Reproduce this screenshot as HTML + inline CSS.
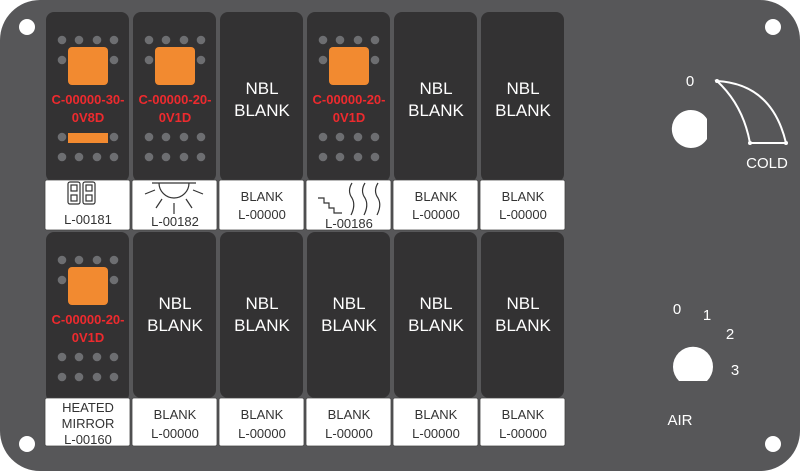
<!DOCTYPE html>
<html><head><meta charset="utf-8"><style>
html,body{margin:0;padding:0;background:#fff;}
svg{display:block;}
text{font-family:"Liberation Sans","DejaVu Sans",sans-serif;}
</style></head><body>
<svg width="800" height="471" viewBox="0 0 800 471" xmlns="http://www.w3.org/2000/svg">
<defs>
<g id="dots4"><circle cx="16" cy="0" r="4.3" fill="#6d6e71"/><circle cx="33" cy="0" r="4.3" fill="#6d6e71"/><circle cx="51" cy="0" r="4.3" fill="#6d6e71"/><circle cx="68" cy="0" r="4.3" fill="#6d6e71"/></g>
<g id="lit">
<rect x="0" y="0" width="83" height="170" rx="8" fill="#333233"/>
<use href="#dots4" y="28"/>
<circle cx="16" cy="48" r="4.3" fill="#6d6e71"/><circle cx="68" cy="48" r="4.3" fill="#6d6e71"/>
<rect x="22" y="35" width="40" height="38" rx="4" fill="#f28a30"/>
<use href="#dots4" y="145"/>
</g>
</defs>
<rect x="0" y="0" width="800" height="471" rx="40" fill="#575759"/>
<circle cx="27" cy="27" r="8" fill="#fff"/>
<circle cx="773" cy="27" r="8" fill="#fff"/>
<circle cx="27" cy="444" r="8" fill="#fff"/>
<circle cx="773" cy="444" r="8" fill="#fff"/>

<!-- Row 1 -->
<g transform="translate(46,12)">
<use href="#lit"/>
<circle cx="16" cy="125" r="4.3" fill="#6d6e71"/><circle cx="68" cy="125" r="4.3" fill="#6d6e71"/>
<rect x="22" y="121" width="40" height="10" fill="#f28a30"/>
<text x="42" y="92" text-anchor="middle" font-size="13" font-weight="bold" fill="#ee2a2e">C-00000-30-</text>
<text x="42" y="110" text-anchor="middle" font-size="13" font-weight="bold" fill="#ee2a2e">0V8D</text>
</g>
<g transform="translate(133,12)">
<use href="#lit"/>
<use href="#dots4" y="125"/>
<text x="42" y="92" text-anchor="middle" font-size="13" font-weight="bold" fill="#ee2a2e">C-00000-20-</text>
<text x="42" y="110" text-anchor="middle" font-size="13" font-weight="bold" fill="#ee2a2e">0V1D</text>
</g>
<g transform="translate(220,12)">
<rect width="83" height="170" rx="8" fill="#333233"/>
<text x="42" y="82" text-anchor="middle" font-size="17" fill="#fff">NBL</text>
<text x="42" y="104" text-anchor="middle" font-size="17" fill="#fff">BLANK</text>
</g>
<g transform="translate(307,12)">
<use href="#lit"/>
<use href="#dots4" y="125"/>
<text x="42" y="92" text-anchor="middle" font-size="13" font-weight="bold" fill="#ee2a2e">C-00000-20-</text>
<text x="42" y="110" text-anchor="middle" font-size="13" font-weight="bold" fill="#ee2a2e">0V1D</text>
</g>
<g transform="translate(394,12)">
<rect width="83" height="170" rx="8" fill="#333233"/>
<text x="42" y="82" text-anchor="middle" font-size="17" fill="#fff">NBL</text>
<text x="42" y="104" text-anchor="middle" font-size="17" fill="#fff">BLANK</text>
</g>
<g transform="translate(481,12)">
<rect width="83" height="170" rx="8" fill="#333233"/>
<text x="42" y="82" text-anchor="middle" font-size="17" fill="#fff">NBL</text>
<text x="42" y="104" text-anchor="middle" font-size="17" fill="#fff">BLANK</text>
</g>

<!-- Row 1 labels -->
<g fill="#fff" stroke="#444" stroke-width="0.8">
<rect x="45" y="180" width="85" height="50" rx="2"/>
<rect x="132" y="180" width="85" height="50" rx="2"/>
<rect x="219" y="180" width="85" height="50" rx="2"/>
<rect x="306" y="180" width="85" height="50" rx="2"/>
<rect x="393" y="180" width="85" height="50" rx="2"/>
<rect x="480" y="180" width="85" height="50" rx="2"/>
</g>
<g fill="none" stroke="#333" stroke-width="1.2">
<rect x="68" y="182" width="12" height="22" rx="2"/><rect x="83" y="182" width="12" height="22" rx="2"/>
<rect x="71" y="185" width="6" height="6"/><rect x="71" y="195" width="6" height="6"/>
<rect x="86" y="185" width="6" height="6"/><rect x="86" y="195" width="6" height="6"/>
<line x1="152" y1="183" x2="196" y2="183"/>
<path d="M159,183 A15,15 0 0 0 189,183"/>
<line x1="155" y1="190" x2="145" y2="194"/><line x1="193" y1="190" x2="203" y2="194"/>
<line x1="162" y1="199" x2="156" y2="208"/><line x1="186" y1="199" x2="192" y2="208"/>
<line x1="174" y1="203" x2="174" y2="214"/>
<path d="M318,198 H324 V203 H329 V208 H334 V213 H342"/>
<path d="M352,183 q-5,8 0,15 q4,7 -1,17"/>
<path d="M365,183 q-5,8 0,15 q4,7 -1,17"/>
<path d="M378,183 q-5,8 0,15 q4,7 -1,17"/>
</g>
<g font-size="13" fill="#333" text-anchor="middle">
<text x="88" y="224">L-00181</text>
<text x="175" y="226">L-00182</text>
<text x="262" y="201">BLANK</text><text x="262" y="219">L-00000</text>
<text x="349" y="228">L-00186</text>
<text x="436" y="201">BLANK</text><text x="436" y="219">L-00000</text>
<text x="523" y="201">BLANK</text><text x="523" y="219">L-00000</text>
</g>

<!-- Row 2 -->
<g transform="translate(46,232)">
<use href="#lit"/>
<use href="#dots4" y="125"/>
<text x="42" y="92" text-anchor="middle" font-size="13" font-weight="bold" fill="#ee2a2e">C-00000-20-</text>
<text x="42" y="110" text-anchor="middle" font-size="13" font-weight="bold" fill="#ee2a2e">0V1D</text>
</g>
<g fill="#333233">
<rect x="133" y="232" width="83" height="166" rx="8"/>
<rect x="220" y="232" width="83" height="166" rx="8"/>
<rect x="307" y="232" width="83" height="166" rx="8"/>
<rect x="394" y="232" width="83" height="166" rx="8"/>
<rect x="481" y="232" width="83" height="166" rx="8"/>
</g>
<g font-size="17" fill="#fff" text-anchor="middle">
<text x="175" y="309">NBL</text><text x="175" y="331">BLANK</text>
<text x="262" y="309">NBL</text><text x="262" y="331">BLANK</text>
<text x="349" y="309">NBL</text><text x="349" y="331">BLANK</text>
<text x="436" y="309">NBL</text><text x="436" y="331">BLANK</text>
<text x="523" y="309">NBL</text><text x="523" y="331">BLANK</text>
</g>
<g fill="#fff" stroke="#444" stroke-width="0.8">
<rect x="45" y="398" width="85" height="48" rx="2"/>
<rect x="132" y="398" width="85" height="48" rx="2"/>
<rect x="219" y="398" width="85" height="48" rx="2"/>
<rect x="306" y="398" width="85" height="48" rx="2"/>
<rect x="393" y="398" width="85" height="48" rx="2"/>
<rect x="480" y="398" width="85" height="48" rx="2"/>
</g>
<g font-size="13" fill="#333" text-anchor="middle">
<text x="88" y="412">HEATED</text><text x="88" y="428">MIRROR</text><text x="88" y="444">L-00160</text>
<text x="175" y="419">BLANK</text><text x="175" y="438">L-00000</text>
<text x="262" y="419">BLANK</text><text x="262" y="438">L-00000</text>
<text x="349" y="419">BLANK</text><text x="349" y="438">L-00000</text>
<text x="436" y="419">BLANK</text><text x="436" y="438">L-00000</text>
<text x="523" y="419">BLANK</text><text x="523" y="438">L-00000</text>
</g>

<!-- COLD knob -->
<path d="M707,119 A19,19 0 1 0 707,139 Z" fill="#fff"/>
<text x="690" y="86" font-size="15" fill="#fff" text-anchor="middle">0</text>
<path d="M717,81 Q772,84 786,143 L750,143 Q743,105 717,81 Z" fill="none" stroke="#fff" stroke-width="2"/>
<circle cx="717" cy="81" r="2" fill="#fff"/><circle cx="750" cy="143" r="2" fill="#fff"/><circle cx="786" cy="143" r="2" fill="#fff"/>
<text x="767" y="168" font-size="15" fill="#fff" text-anchor="middle">COLD</text>

<!-- AIR knob -->
<path d="M679,381 A20,20 0 1 1 707,381 Z" fill="#fff"/>
<g font-size="15" fill="#fff" text-anchor="middle">
<text x="677" y="314">0</text>
<text x="707" y="320">1</text>
<text x="730" y="339">2</text>
<text x="735" y="375">3</text>
<text x="680" y="425">AIR</text>
</g>
</svg>
</body></html>
